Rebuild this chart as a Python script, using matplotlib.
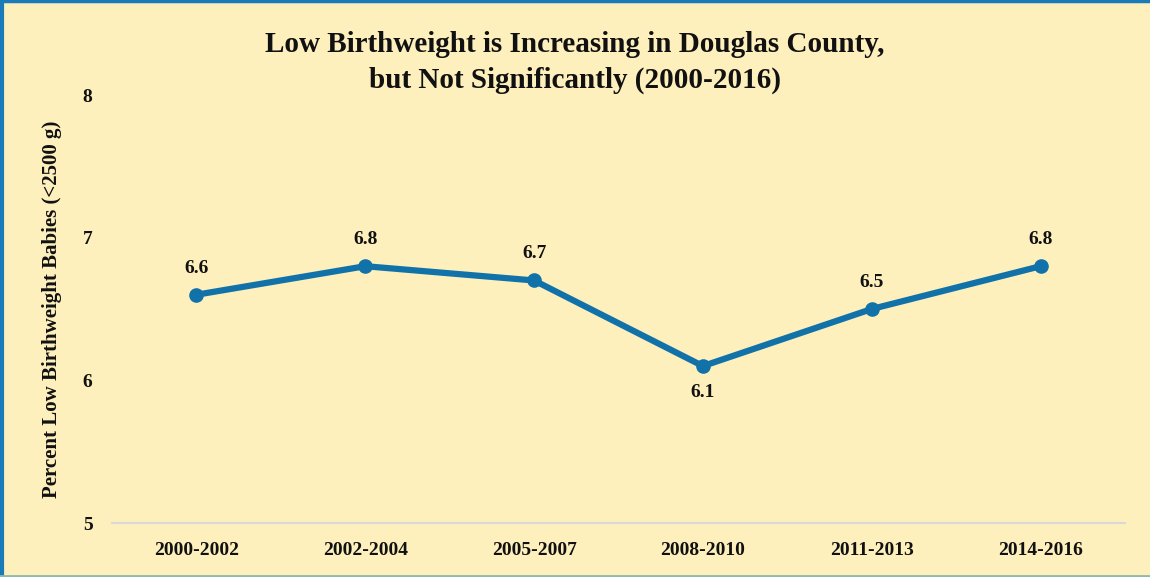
import matplotlib
matplotlib.use("Agg")
import matplotlib.pyplot as plt
from matplotlib.lines import Line2D

periods = ["2000-2002", "2002-2004", "2005-2007", "2008-2010", "2011-2013", "2014-2016"]
pct_low_bw = [6.6, 6.8, 6.7, 6.1, 6.5, 6.8]
y_ticks = [5, 6, 7, 8]
title_lines = ["Low Birthweight is Increasing in Douglas County,",
               "but Not Significantly (2000-2016)"]

BG = "#FDF0BD"
LINE = "#1172A9"
SERIF = ["Liberation Serif", "DejaVu Serif"]
W, H = 1150, 577

fig = plt.figure(figsize=(W / 100, H / 100), dpi=100, facecolor=BG)
ax = fig.add_axes([112 / W, 54 / H, 1013 / W, 428 / H])
ax.set_facecolor(BG)

x = list(range(len(periods)))
ax.plot(x, pct_low_bw, color=LINE, lw=4.5, marker="o", ms=9.5,
        solid_capstyle="round", zorder=3)

# label each point; the dip in the middle gets its label underneath
low_idx = pct_low_bw.index(min(pct_low_bw))
for xi, v in zip(x, pct_low_bw):
    if xi == low_idx:
        ax.annotate(f"{v:.1f}", (xi, v), xytext=(0, -13), textcoords="offset points",
                    ha="center", va="top", fontsize=14, fontweight="bold",
                    family=SERIF, color="#111111")
    else:
        ax.annotate(f"{v:.1f}", (xi, v), xytext=(0, 13), textcoords="offset points",
                    ha="center", va="bottom", fontsize=14, fontweight="bold",
                    family=SERIF, color="#111111")

ax.set_xlim(-0.5, len(periods) - 0.5)
ax.set_ylim(5, 8)
ax.set_yticks(y_ticks)
ax.set_yticklabels([str(t) for t in y_ticks], fontsize=14, fontweight="bold",
                   family=SERIF, color="#111111")
ax.set_xticks(x)
ax.set_xticklabels(periods, fontsize=14, fontweight="bold", family=SERIF,
                   color="#111111")
ax.tick_params(axis="both", length=0)
ax.tick_params(axis="y", pad=14)
ax.tick_params(axis="x", pad=14)
for side in ("top", "right", "left"):
    ax.spines[side].set_visible(False)
ax.spines["bottom"].set_color("#D9D9D9")
ax.spines["bottom"].set_linewidth(1.5)

ax.set_ylabel("Percent Low Birthweight Babies (<2500 g)", fontsize=15,
              fontweight="bold", family=SERIF, color="#111111")
ax.yaxis.set_label_coords(-50 / 1013, 0.5)

for line, base_px in zip(title_lines, [52, 88]):
    fig.text(0.5, 1 - base_px / H, line, ha="center", va="baseline",
             fontsize=21, fontweight="bold", family=SERIF, color="#111111")

# frame around the figure
fig.add_artist(Line2D([0, 1], [1 - 1 / H, 1 - 1 / H], transform=fig.transFigure,
                      color="#1A7BB8", lw=2.5))
fig.add_artist(Line2D([1.5 / W, 1.5 / W], [0, 1], transform=fig.transFigure,
                      color="#1A7BB8", lw=3))
fig.add_artist(Line2D([0, 1], [1 / H, 1 / H], transform=fig.transFigure,
                      color="#8FB9A8", lw=2))

fig.savefig("out.png", dpi=100, facecolor=BG)
